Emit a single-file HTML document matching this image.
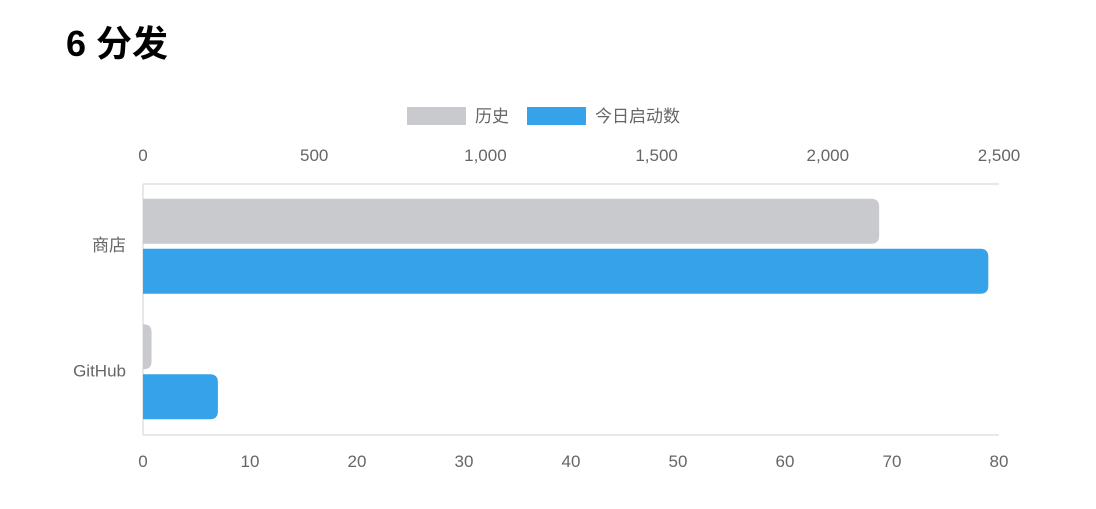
<!DOCTYPE html>
<html><head><meta charset="utf-8"><style>
body{margin:0;background:#fff;width:1096px;height:504px;overflow:hidden;font-family:"Liberation Sans","Noto Sans CJK SC",sans-serif}
</style></head><body>
<svg width="1096" height="504" xmlns="http://www.w3.org/2000/svg">
<text x="66" y="56" font-size="36" font-weight="bold" fill="#000" font-family="Liberation Sans,Noto Sans CJK SC,sans-serif">6 分发</text>
<g>
<g><rect x="407" y="107" width="59" height="18" fill="#c9cacd"/><text x="475" y="122" font-size="17" fill="#666">历史</text></g>
<g><rect x="527" y="107" width="59" height="18" fill="#36a2e9"/><text x="595" y="122" font-size="17" fill="#666">今日启动数</text></g>
</g>
<g id="plot"></g>
</svg>
<script>
const categories=["商店","GitHub"];
const historyValues=[2150,25];
const todayValues=[79,7];
const topTicks=[0,500,1000,1500,2000,2500];
const bottomTicks=[0,10,20,30,40,50,60,70,80];
const NS="http://www.w3.org/2000/svg";
const X0=143,X1=999,Y0=184,Y1=435;
const xTop=v=>X0+(v/2500)*(X1-X0);
const xBot=v=>X0+(v/80)*(X1-X0);
const band=(Y1-Y0)/categories.length;
const g=document.getElementById('plot');
function mk(t,a){const e=document.createElementNS(NS,t);for(const k in a)e.setAttribute(k,a[k]);g.appendChild(e);return e;}
function barPath(x,y,w,h,r){r=Math.min(r,w,h/2);return `M${x},${y}H${x+w-r}Q${x+w},${y} ${x+w},${y+r}V${y+h-r}Q${x+w},${y+h} ${x+w-r},${y+h}H${x}Z`;}
let l=mk('line',{x1:X0,x2:X1,y1:Y0,y2:Y0,stroke:'#e0e0e0','stroke-width':1.5});


l=mk('line',{x1:X0,x2:X1,y1:Y1,y2:Y1,stroke:'#e0e0e0','stroke-width':1.5});


l=mk('line',{x1:X0,x2:X0,y1:Y0,y2:Y1,stroke:'#e0e0e0','stroke-width':1.5});


topTicks.forEach(v=>{const t=mk('text',{x:xTop(v),y:161,'font-size':17,fill:'#666','text-anchor':'middle'});t.textContent=v.toLocaleString('en-US');

});
bottomTicks.forEach(v=>{const t=mk('text',{x:xBot(v),y:467,'font-size':17,fill:'#666','text-anchor':'middle'});t.textContent=v;

});
categories.forEach((c,i)=>{
 const cy=Y0+band*(i+0.5);
 const t=mk('text',{x:126,y:cy+4,'font-size':17,fill:'#666','text-anchor':'end'});t.textContent=c;
 
 
 const b1=mk('path',{d:barPath(X0,cy-48,xTop(historyValues[i])-X0,45,8),fill:'#c9cacd'});
 
 
 const b2=mk('path',{d:barPath(X0,cy+2,xBot(todayValues[i])-X0,45,8),fill:'#36a2e9'});
 
 
});
</script>
</body></html>
